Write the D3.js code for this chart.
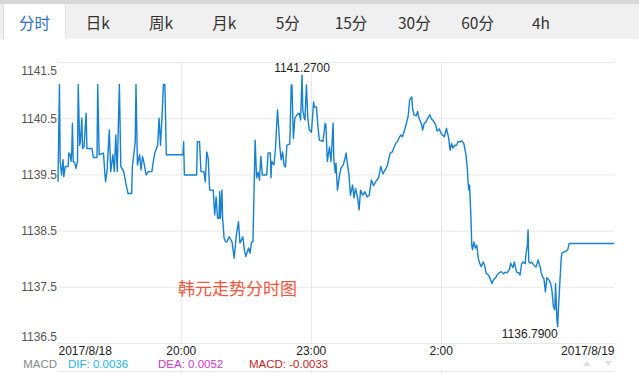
<!DOCTYPE html>
<html>
<head>
<meta charset="utf-8">
<script src="https://cdn.jsdelivr.net/npm/d3@7"></script>
<style>
body{margin:0;background:#fff}
svg{display:block;font-family:"Liberation Sans",Arial,sans-serif}
</style>
</head>
<body>
<svg id="chart" width="639" height="374"></svg>
<script>
// tabs across the top
const tabs = ["分时","日k","周k","月k","5分","15分","30分","60分","4h"]
const activeTab = 0

// axes
const yTicks = [1136.5,1137.5,1138.5,1139.5,1140.5,1141.5]
const xTicks = [0,170,350,530,770]          // minutes from 17:10
const xLabels = ["2017/8/18","20:00","23:00","2:00","2017/8/19"]

// price series, minutes from 17:10 on 2017/8/18
const minutes = [0,2,3,5,7,8,10,14,15,17,18,19,20,21,23,25,27,28,30,31,33,34,36,39,40,47,49,54,55,57,
	63,65,66,68,71,73,76,78,80,82,85,87,91,94,97,102,103,107,108,110,113,115,117,119,122,125,130,132,134,138,
	140,142,144,146,148,150,173,174,175,192,193,196,198,202,204,206,208,210,215,217,219,221,223,224,225,227,228,230,232,234,
	237,241,244,247,250,252,256,258,260,264,266,268,270,273,275,277,279,281,283,289,291,294,295,296,299,301,304,306,307,309,
	311,313,315,317,321,323,324,326,328,331,334,336,338,339,341,342,344,346,348,351,354,355,358,360,362,367,370,371,373,376,
	378,379,381,382,384,385,387,390,392,395,397,399,401,403,405,408,410,412,415,417,419,422,425,428,431,434,437,440,444,447,
	450,453,456,460,463,465,468,470,473,475,477,480,483,485,487,490,491,493,496,498,500,503,505,507,510,512,515,517,520,523,
	525,528,531,535,537,538,541,543,545,547,550,552,554,557,559,562,565,567,568,569,570,572,573,574,576,578,580,582,584,586,
	589,591,593,596,598,601,603,606,608,611,614,617,619,622,625,627,630,632,635,638,640,642,644,647,648,650,651,652,654,656,
	659,662,665,668,669,671,673,675,677,680,682,684,686,688,689,691,692,693,695,697,698,701,704,706,708,770]
const prices = [1139.37,1141.10,1139.73,1139.49,1139.76,1139.46,1139.64,1139.64,1139.88,1139.85,1139.73,1139.88,1140.41,1139.73,1139.71,1139.61,1139.73,1141.10,1140.02,1140.08,1140.50,1139.96,1139.99,1140.59,1139.96,1139.96,1139.80,1139.80,1141.10,1139.85,
	1139.88,1139.49,1139.37,1139.58,1140.29,1139.55,1139.85,1139.55,1140.20,1139.55,1141.10,1139.64,1139.55,1139.34,1139.16,1139.16,1139.64,1140.08,1141.10,1139.67,1139.85,1139.58,1139.82,1139.71,1139.49,1139.55,1139.55,1139.73,1139.88,1140.02,
	1140.50,1140.02,1140.51,1141.10,1141.10,1139.85,1139.85,1140.08,1139.49,1139.49,1140.08,1140.08,1139.55,1139.55,1139.37,1139.90,1139.79,1139.22,1139.22,1138.78,1139.10,1138.72,1138.72,1139.19,1138.72,1139.22,1138.72,1138.37,1138.30,1138.30,
	1138.39,1138.30,1138.01,1138.42,1138.66,1138.28,1138.39,1138.16,1138.04,1138.19,1138.10,1138.30,1138.30,1140.11,1139.44,1139.54,1139.40,1139.82,1139.49,1139.49,1139.88,1139.88,1139.44,1139.73,1139.67,1139.93,1140.65,1140.26,1140.02,1139.76,
	1139.90,1139.67,1139.63,1140.02,1140.04,1141.09,1141.09,1140.14,1140.50,1140.56,1140.59,1140.47,1141.27,1140.65,1140.50,1140.47,1141.09,1140.50,1140.29,1140.25,1140.79,1140.70,1140.70,1140.35,1140.11,1140.09,1140.41,1140.38,1139.73,1139.99,
	1139.73,1139.93,1140.41,1139.76,1139.53,1139.70,1139.22,1139.49,1139.61,1139.67,1139.76,1139.88,1139.67,1139.49,1139.13,1139.31,1139.08,1139.25,1139.08,1138.87,1139.22,1139.13,1139.19,1139.10,1139.13,1139.40,1139.30,1139.37,1139.44,1139.64,
	1139.51,1139.58,1139.65,1139.88,1139.90,1139.97,1140.06,1140.08,1140.17,1140.20,1140.17,1140.29,1140.43,1140.54,1140.82,1140.88,1140.68,1140.56,1140.54,1140.62,1140.50,1140.41,1140.29,1140.40,1140.44,1140.50,1140.56,1140.49,1140.45,1140.38,
	1140.27,1140.31,1140.22,1140.17,1140.27,1140.32,1140.15,1139.93,1140.05,1139.97,1140.02,1140.02,1140.08,1140.08,1140.10,1140.05,1139.85,1139.58,1139.34,1139.22,1139.31,1138.69,1138.24,1138.16,1138.30,1138.19,1138.24,1138.01,1137.92,1137.86,
	1137.94,1137.87,1137.74,1137.71,1137.66,1137.56,1137.62,1137.66,1137.71,1137.75,1137.77,1137.73,1137.76,1137.75,1137.80,1137.92,1137.84,1137.94,1137.76,1137.75,1137.71,1137.91,1137.94,1137.91,1138.07,1138.24,1138.51,1137.94,1137.92,1137.94,
	1137.89,1137.85,1137.98,1137.84,1137.76,1137.68,1137.64,1137.41,1137.66,1137.62,1137.57,1137.44,1137.15,1137.09,1137.56,1136.91,1136.79,1137.09,1137.57,1138.03,1138.10,1138.12,1138.14,1138.16,1138.27,1138.27]

// MACD legend
const macdNames = ["DIF","DEA","MACD"]
const macdValues = [0.0036,0.0052,-0.0033]
const macdColors = ["#19b5ea","#cf36cc","#c81d25"]

const title = "韩元走势分时图"

const svg = d3.select("#chart")
const L = 58, R = 614, T = 62, B = 343

const x = d3.scaleLinear().domain([0,770]).range([L,R])
const y = d3.scaleLinear().domain([1136.5,1141.5]).range([B,T])

// tab bar
svg.append("rect").attr("x",0).attr("y",0).attr("width",639).attr("height",4).attr("fill","#d7d7d7")
svg.append("rect").attr("x",0).attr("y",4).attr("width",639).attr("height",35).attr("fill","#f0f0f0")
svg.append("rect").attr("x",3).attr("y",4).attr("width",62).attr("height",35)
	.attr("fill","#fff")
svg.append("line").attr("x1",3.5).attr("x2",3.5).attr("y1",4).attr("y2",39).attr("stroke","#dcdcdc")
svg.append("line").attr("x1",65.5).attr("x2",65.5).attr("y1",4).attr("y2",39).attr("stroke","#e2e2e2")
svg.selectAll("text.tab").data(tabs).join("text")
	.attr("class","tab")
	.attr("x",(d,i)=>34.5+i*63.3)
	.attr("y",22)
	.attr("dominant-baseline","central")
	.attr("text-anchor","middle")
	.attr("font-family","'Noto Sans CJK SC','Noto Sans',sans-serif")
	.attr("font-size",15.5)
	.attr("fill",(d,i)=>i===activeTab?"#2c6fc0":"#333")
	.text(d=>d)

// horizontal grid
svg.append("g")
	.attr("transform",`translate(${L},0)`)
	.call(d3.axisLeft(y).tickValues(yTicks).tickSize(-(R-L)).tickFormat(""))
	.call(g=>g.select(".domain").remove())
	.call(g=>g.selectAll("line").attr("stroke","#e8e8e8"))

// vertical grid
const inner = xTicks.slice(1,-1)
svg.append("g").selectAll("line").data(inner).join("line")
	.attr("x1",d=>Math.round(x(d))+0.5).attr("x2",d=>Math.round(x(d))+0.5)
	.attr("y1",T).attr("y2",B).attr("stroke","#e8e8e8")
svg.append("g").selectAll("line").data(inner).join("line")
	.attr("x1",d=>Math.round(x(d))+0.5).attr("x2",d=>Math.round(x(d))+0.5)
	.attr("y1",369).attr("y2",374).attr("stroke","#e8e8e8")
svg.append("line").attr("x1",L).attr("x2",R).attr("y1",371.5).attr("y2",371.5).attr("stroke","#e8e8e8")

// y labels
svg.append("g")
	.attr("transform",`translate(${L-1},0)`)
	.call(d3.axisLeft(y).tickValues(yTicks).tickSize(0).tickPadding(0).tickFormat(d3.format(".1f")))
	.call(g=>g.select(".domain").remove())
	.call(g=>g.selectAll("text")
		.attr("font-size",12).attr("font-family","'Liberation Sans',Arial,sans-serif").attr("fill","#555")
		.attr("y",d=>d===1141.5?9:d===1136.5?-6.5:0))

// x labels
svg.append("g")
	.attr("transform",`translate(0,${B})`)
	.call(d3.axisBottom(x).tickValues(xTicks).tickSize(0).tickPadding(3).tickFormat((d,i)=>xLabels[i]))
	.call(g=>g.select(".domain").attr("stroke","#e8e8e8"))
	.call(g=>g.selectAll("text")
		.attr("font-size",12).attr("font-family","'Liberation Sans',Arial,sans-serif").attr("fill","#222")
		.attr("text-anchor",(d,i)=>i===0?"start":i===xTicks.length-1?"end":"middle"))

// title
svg.append("text")
	.attr("x",178).attr("y",287.5)
	.attr("dominant-baseline","central")
	.attr("font-family","'Noto Sans CJK SC',sans-serif")
	.attr("font-size",17)
	.attr("fill","#f2553d")
	.text(title)

// price line
const pts = minutes.map((m,i)=>[m,prices[i]])
svg.append("path")
	.datum(pts)
	.attr("fill","none")
	.attr("stroke","#1581d0")
	.attr("stroke-width",1.4)
	.attr("stroke-linejoin","round")
	.attr("d",d3.line().x(d=>x(d[0])).y(d=>y(d[1])))

// max / min marks
const fmt = d3.format(".4f")
const hi = pts[d3.maxIndex(prices)], lo = pts[d3.minIndex(prices)]
svg.append("text")
	.attr("x",x(hi[0])).attr("y",y(hi[1])-3)
	.attr("text-anchor","middle").attr("font-size",12).attr("fill","#222")
	.text(fmt(hi[1]))
svg.append("text")
	.attr("x",x(lo[0])).attr("y",y(lo[1])+11)
	.attr("text-anchor","end").attr("font-size",12).attr("fill","#222")
	.text(fmt(lo[1]))

// MACD legend
svg.append("text").attr("x",57).attr("y",367.5).attr("text-anchor","end")
	.attr("font-size",11.5).attr("fill","#888").text("MACD")
const legX = [68,158,249]
svg.selectAll("text.leg").data(macdNames).join("text")
	.attr("class","leg")
	.attr("x",(d,i)=>legX[i]).attr("y",367.5)
	.attr("font-size",11.5)
	.attr("fill",(d,i)=>macdColors[i])
	.text((d,i)=>`${d}: ${macdValues[i].toFixed(4)}`)

// arrows at bottom right
svg.append("path").attr("d","M583,366 L587,361 L591,366 Z").attr("fill","#dedede")
svg.append("path").attr("d","M605,361 L612,361 L608.5,366 Z").attr("fill","#dedede")
</script>
</body>
</html>
